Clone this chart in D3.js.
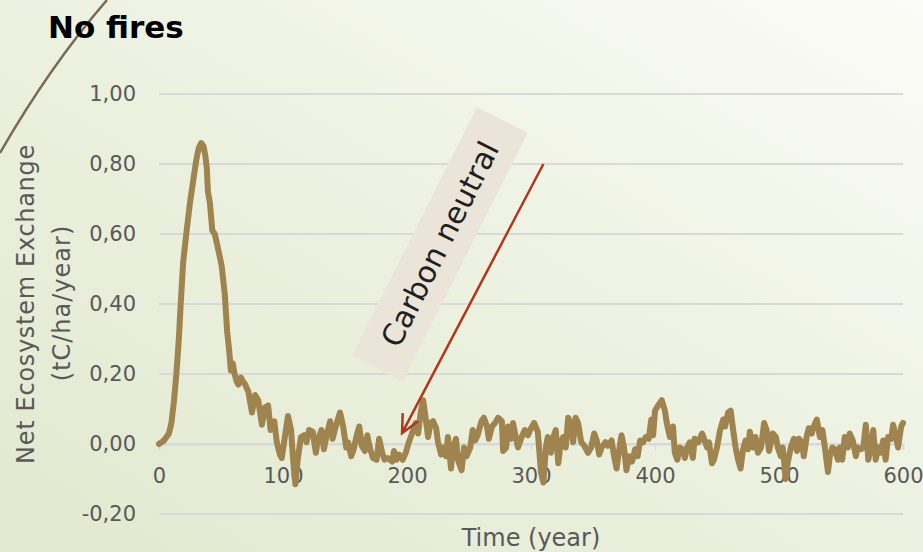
<!DOCTYPE html>
<html>
<head>
<meta charset="utf-8">
<script src="https://cdn.jsdelivr.net/npm/d3@7"></script>
<style>
  body { margin: 0; }
  svg { display: block; font-family: "DejaVu Sans", sans-serif; }
</style>
</head>
<body>
<svg id="svg01" width="923" height="552"></svg>
<script>

// years (x) and Net Ecosystem Exchange (tC/ha/year)
const years = [0,4,8,10,12,14,16,17.5,19.5,22,25,27.5,30,32,34,36,37.5,38.5,39.5,41,43,45,47.5,50.5,53,55,56.5,58,59.5,61,62.5,64,66,67.5,69.5,72,75,77.5,80,83,85.5,88,90,93,95,97.5,99,
  101.5,104,106.5,108.5,110,112,114.5,117,119,121,124,126.5,128,131,133,135.5,138,140,142.5,146,148.5,151,152.5,155,157,159.5,161.5,163.5,166,168,170,172.5,175.5,177.5,180,182,184.5,188,189.5,191.5,193.5,196.5,199,
  201.5,203.5,205,207,209,211,213,215,217,219,221,223.5,225,227.5,229,231.5,233,235.5,237,239.5,241,244,246,248,251,253,255,257,260,262,264.5,266,268.5,271,273.5,276.5,277.5,280,281.5,284,285.5,288,289.5,292.5,295,297.5,
  300,302.5,305.5,308,310,312,313.5,316,318,320,322,324,326,328,330,332,334,336,338,340.5,343,346,348.5,351,353,355,357,360,362,365,367,369,371,373,375,377,379,381.5,384,386,388,390.5,392.5,395,397,398.5,
  400,402.5,405.5,408,409.5,412,414.5,416,418,420,422.5,424,426,428,430.5,432,435,438,439.5,442,443.5,446,447.5,450,452.5,455,456.5,459,461,463,465,467,469,471,473,475,476.5,479,481,483,485.5,488,490,492,495,497.5,499,
  501.5,503,505.5,507,509.5,512,514.5,516,518.5,520,522.5,524,526.5,528,530.5,533,535,537,539.5,541,543,545,547.5,549,551,553,555.5,557,559.5,562,563.5,566,568,570,572,574,576,578,580,582,584,586,588,590.5,592,594,596,598.5,600]

const nee = [0,0.01,0.03,0.06,0.12,0.2,0.3,0.4,0.52,0.6,0.69,0.75,0.81,0.845,0.86,0.85,0.82,0.79,0.72,0.69,0.61,0.6,0.56,0.51,0.43,0.32,0.27,0.21,0.23,0.2,0.18,0.17,0.19,0.18,0.17,0.15,0.09,0.14,0.125,0.055,0.105,0.11,0.04,0.065,0.005,-0.03,-0.04,
  0.02,0.08,0.04,-0.06,-0.115,-0.04,0.02,0.025,0.005,0.04,0.035,-0.025,0.01,0.04,-0.015,0.03,0.065,0.015,0.05,0.09,0.05,-0.01,0.005,-0.035,-0.015,0.025,0.05,-0.005,-0.02,0.025,-0.01,-0.04,-0.045,0.015,-0.025,-0.045,-0.04,-0.05,-0.02,-0.045,-0.03,-0.045,-0.025,
  0.005,0.025,0.04,0.06,0.03,0.09,0.125,0.075,0.02,0.06,0.065,0.045,0.005,-0.03,-0.01,-0.035,0.02,-0.07,-0.01,0.015,-0.045,-0.075,-0.01,-0.035,-0.01,0.04,0.01,0.025,0.065,0.075,0.05,0.015,0.05,0.06,0.075,0.065,-0.02,-0.01,0.05,0.015,0.06,0.015,-0.01,0.02,0.04,0.025,
  0.045,0.06,0.035,-0.08,-0.11,-0.01,0.02,-0.025,0.02,0.04,-0.055,0.005,0.02,-0.01,0.075,0.06,0.005,0.075,0.06,0.005,-0.005,-0.025,-0.01,0.03,0.01,-0.03,-0.01,0.005,-0.005,0.01,-0.035,-0.07,-0.02,0.025,-0.01,-0.075,-0.035,-0.05,-0.015,-0.035,0.01,0.005,0.02,0.015,0.07,0.025,
  0.095,0.11,0.125,0.095,0.06,0.02,0.05,-0.025,-0.045,-0.01,-0.015,-0.04,-0.01,0.005,-0.04,0.015,0.005,0.03,0.015,-0.01,0.005,-0.055,-0.045,-0.01,0.04,0.07,0.05,0.09,0.095,0.04,-0.01,-0.045,-0.07,-0.015,0.01,-0.015,0.035,-0.01,0.02,-0.025,-0.01,0.06,0.04,-0.02,0.03,0.02,-0.01,
  -0.035,-0.01,-0.1,-0.055,-0.01,0.015,-0.02,0.015,0.005,-0.035,0.025,0.045,0.03,0.05,0.07,0.02,0.04,-0.01,-0.08,-0.035,-0.01,-0.015,-0.045,-0.01,-0.045,0.02,-0.01,0.03,0.01,-0.035,-0.01,-0.015,-0.01,0.055,-0.045,-0.01,0.04,-0.045,-0.01,-0.025,0.01,-0.045,0.02,0.015,0.055,0.025,-0.01,0.05,0.06]

const yTicks = [-0.2, 0, 0.2, 0.4, 0.6, 0.8, 1.0]
const xTicks = [0, 100, 200, 300, 400, 500, 600]

// annotation: label box centre, arrow start and arrow tip, in data units
const noteText = "Carbon neutral"
const noteCenter = [226.5, 0.571]
const arrowFrom = [310, 0.80]
const arrowTo = [196, 0.031]

const data = years.map((t, i) => ({year: t, nee: nee[i]}))

width = 923
height = 552

x = d3.scaleLinear()
    .domain([0, 600])
    .range([159, 903])

y = d3.scaleLinear()
    .domain([-0.2, 1.0])
    .range([514, 94])

// comma decimals, plain hyphen for negatives
const fmt = d3.format(".2f")
const comma = v => fmt(v).replace(".", ",").replace("\u2212", "-")

const svg = d3.select("#svg01")

// slide background
const defs = svg.append("defs")
const grad = defs.append("linearGradient")
    .attr("id", "bg")
    .attr("x1", 0).attr("y1", 1)
    .attr("x2", 1).attr("y2", 0)
grad.append("stop").attr("offset", "0%").attr("stop-color", "#e1e9cf")
grad.append("stop").attr("offset", "55%").attr("stop-color", "#eef2e2")
grad.append("stop").attr("offset", "100%").attr("stop-color", "#fbfcf7")

svg.append("rect")
    .attr("width", width).attr("height", height)
    .attr("fill", "url(#bg)")

// decorative arc from the slide template
svg.append("path")
    .attr("d", "M0,153 Q50,66 107,0")
    .attr("fill", "none")
    .attr("stroke", "#776b52")
    .attr("stroke-width", 2.5)

svg.append("text")
    .attr("x", 48).attr("y", 38)
    .attr("font-size", 31)
    .attr("font-weight", "bold")
    .attr("fill", "#000")
    .text("No fires")

const g_ = svg.append("g")

// gridlines
g_.append("g")
    .selectAll("line")
    .data(yTicks)
    .join("line")
    .attr("x1", x(0)).attr("x2", x(600))
    .attr("y1", d => y(d)).attr("y2", d => y(d))
    .attr("stroke", "#d9d9d9")
    .attr("stroke-width", 2)

yAxis = g => g
    .attr("transform", `translate(${x(0) - 23},0)`)
    .call(d3.axisLeft(y).tickValues(yTicks).tickFormat(comma).tickSize(0).tickPadding(0))
    .call(g => g.select(".domain").remove())
    .call(g => g.selectAll("text")
        .attr("fill", "#595959")
        .attr("font-size", 21)
        .attr("font-family", "DejaVu Sans"))

xAxis = g => g
    .attr("transform", `translate(0,${y(0)})`)
    .call(d3.axisBottom(x).tickValues(xTicks).tickSize(6).tickPadding(18))
    .call(g => g.select(".domain").attr("stroke", "#d9d9d9").attr("stroke-width", 2))
    .call(g => g.selectAll(".tick line").attr("stroke", "#d9d9d9"))
    .call(g => g.selectAll("text")
        .attr("fill", "#595959")
        .attr("font-size", 21)
        .attr("font-family", "DejaVu Sans"))

g_.append("g").call(yAxis)
g_.append("g").call(xAxis)

// axis titles
svg.append("text")
    .attr("transform", `translate(26,304) rotate(-90)`)
    .attr("text-anchor", "middle")
    .attr("dominant-baseline", "central")
    .attr("font-size", 24)
    .attr("letter-spacing", 0.7)
    .attr("fill", "#595959")
    .text("Net Ecosystem Exchange")

svg.append("text")
    .attr("transform", `translate(62,303) rotate(-90)`)
    .attr("text-anchor", "middle")
    .attr("dominant-baseline", "central")
    .attr("font-size", 24)
    .attr("letter-spacing", 1)
    .attr("fill", "#595959")
    .text("(tC/ha/year)")

svg.append("text")
    .attr("x", 531).attr("y", 546)
    .attr("text-anchor", "middle")
    .attr("font-size", 24)
    .attr("fill", "#595959")
    .text("Time (year)")

// the series
const line = d3.line()
    .x(d => x(d.year))
    .y(d => y(d.nee))

g_.append("path")
    .attr("d", line(data))
    .attr("fill", "none")
    .attr("stroke", "#a0844f")
    .attr("stroke-width", 6)
    .attr("stroke-linejoin", "round")
    .attr("stroke-linecap", "round")

// annotation box
const note = svg.append("g")
    .attr("transform", `translate(${x(noteCenter[0])},${y(noteCenter[1])}) rotate(-63.3)`)
note.append("rect")
    .attr("x", -139).attr("y", -28.5)
    .attr("width", 278).attr("height", 57)
    .attr("fill", "#ebe4d8")
note.append("text")
    .attr("text-anchor", "middle")
    .attr("dominant-baseline", "central")
    .attr("font-size", 30)
    .attr("fill", "#1f1f1f")
    .text(noteText)

// arrow
const ax0 = x(arrowFrom[0]), ay0 = y(arrowFrom[1])
const ax1 = x(arrowTo[0]), ay1 = y(arrowTo[1])
const ang = Math.atan2(ay0 - ay1, ax0 - ax1)
const head = 20, spread = 0.45
const arrow = d3.path()
arrow.moveTo(ax0, ay0)
arrow.lineTo(ax1, ay1)
arrow.moveTo(ax1 + head * Math.cos(ang - spread), ay1 + head * Math.sin(ang - spread))
arrow.lineTo(ax1, ay1)
arrow.lineTo(ax1 + head * Math.cos(ang + spread), ay1 + head * Math.sin(ang + spread))

svg.append("path")
    .attr("d", arrow.toString())
    .attr("fill", "none")
    .attr("stroke", "#b0361c")
    .attr("stroke-width", 2.5)
    .attr("stroke-linejoin", "miter")

</script>
</body>
</html>
